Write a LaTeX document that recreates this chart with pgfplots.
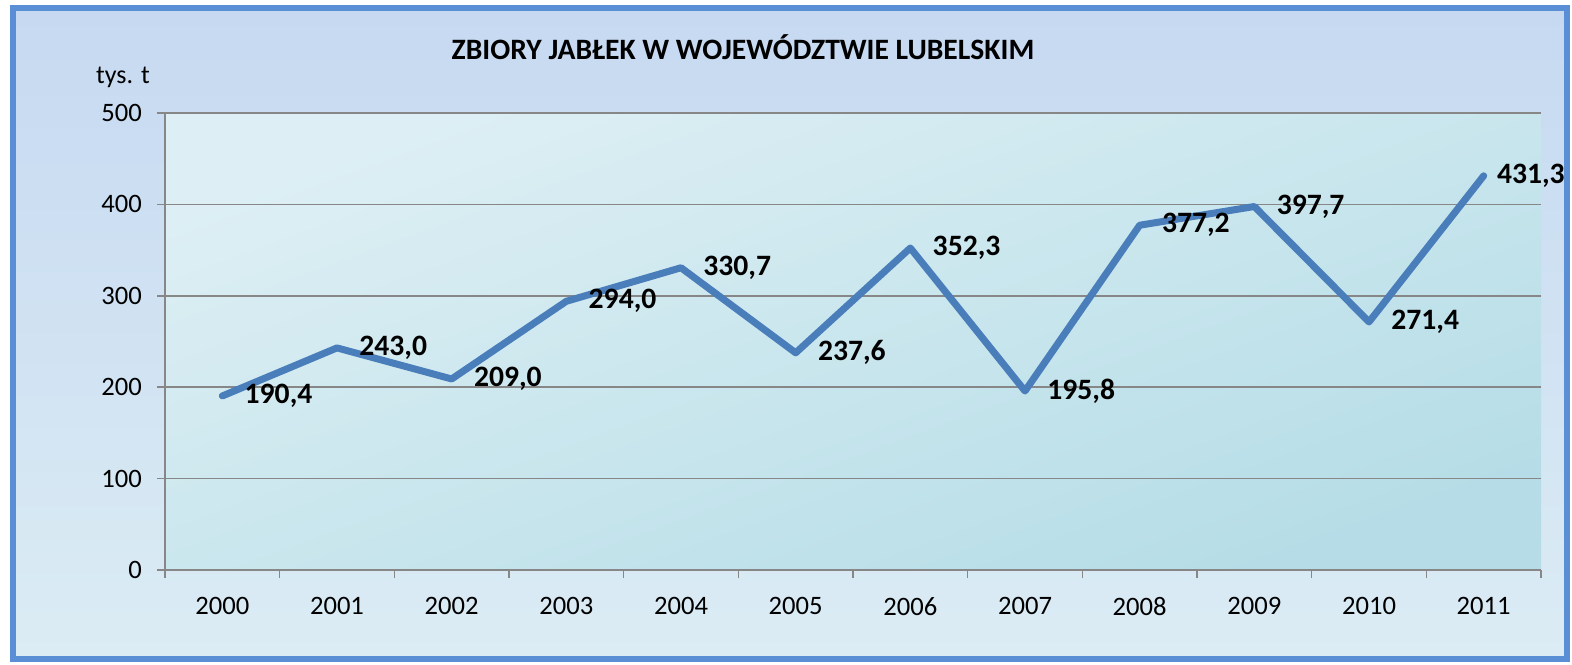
\documentclass[border=0pt]{standalone}
\usepackage{pgfplots}
\pgfplotsset{compat=1.18}
\usepackage{pgfplotstable}
\usepackage{fontspec}
\setmainfont{Carlito}
\definecolor{frameblue}{HTML}{5A8FD5}
\definecolor{bgtop}{HTML}{C6D9F1}
\definecolor{bgbot}{HTML}{DBECF4}
\definecolor{pul}{HTML}{DDEFF4}
\definecolor{plr}{HTML}{B6DDE7}
\definecolor{gridgray}{HTML}{878787}
\definecolor{lineblue}{HTML}{4A7EBB}
\pgfplotstableread{
x y label
0 190.4 190,4
1 243.0 243,0
2 209.0 209,0
3 294.0 294,0
4 330.7 330,7
5 237.6 237,6
6 352.3 352,3
7 195.8 195,8
8 377.2 377,2
9 397.7 397,7
10 271.4 271,4
11 431.3 431,3
}\datatable
\pgfplotstableread{
x y label
0 190.4 190,4
1 243.0 243,0
2 209.0 209,0
3 294.0 294,0
4 330.7 330,7
5 237.6 237,6
6 352.3 352,3
7 195.8 195,8
8 377.2 377,2
9 397.7 397,7
10 271.4 271,4
}\labelsA
\pgfplotstableread{
x y label
11 431.3 431,3
}\labelsB
\begin{document}
\begin{tikzpicture}
\fill[white] (0,0) rectangle (786pt,332pt);
\useasboundingbox (0,0) rectangle (786pt,332pt);
\shade[top color=bgtop, bottom color=bgbot] (6.5pt,2.5pt) rectangle (783.5pt,327.75pt);
\draw[frameblue, line width=3pt] (6.5pt,2.5pt) rectangle (783.5pt,327.75pt);
\node[font=\fontsize{14.8}{17}\selectfont\bfseries] at (371.5pt,308.5pt) {ZBIORY JABŁEK W WOJEWÓDZTWIE LUBELSKIM};
\node[font=\fontsize{13}{15}\selectfont] at (61.5pt,293.5pt) {tys. t};
\begin{axis}[
  at={(82.5pt,47pt)}, anchor=south west,
  scale only axis, width=688pt, height=228.5pt,
  xmin=-0.5, xmax=11.5, ymin=0, ymax=500,
  clip=false,
  axis background/.style={shade, top color=pul, bottom color=plr, shading angle=20},
  axis line style={gridgray, line width=0.8pt},
  axis x line*=bottom, axis y line*=left,
  hide obscured x ticks=false,
  ytick={0,100,...,500},
  xtick={0,...,11},
  xticklabels={2000,2001,2002,2003,2004,2005,2006,2007,2008,2009,2010,2011},
  minor xtick={-0.5,0.5,...,11.5},
  tick align=outside,
  major tick length=4pt, minor tick length=4pt,
  x tick style={draw=none},
  minor x tick style={draw=gridgray, line width=0.8pt},
  y tick style={draw=gridgray, line width=0.8pt},
  ymajorgrids, grid style={gridgray, line width=0.8pt},
  /pgf/number format/assume math mode=true,
  ticklabel style={font=\fontsize{13.3}{15}\selectfont, text=black},
  yticklabel style={xshift=-4pt},
  xticklabel style={yshift=-6pt},
]
\addplot[lineblue, line width=3.5pt, line join=round, line cap=round] table[x=x,y=y] {\datatable};
\addplot[draw=none, mark=none, point meta=explicit symbolic,
  nodes near coords,
  nodes near coords style={anchor=west, xshift=10pt, font=\fontsize{14.8}{17}\selectfont\bfseries, text=black, inner sep=1pt}]
  table[x=x,y=y,meta=label] {\labelsA};
\addplot[draw=none, mark=none, point meta=explicit symbolic,
  nodes near coords,
  nodes near coords style={anchor=west, xshift=5.5pt, font=\fontsize{14.8}{17}\selectfont\bfseries, text=black, inner sep=1pt}]
  table[x=x,y=y,meta=label] {\labelsB};
\end{axis}
\end{tikzpicture}
\end{document}
